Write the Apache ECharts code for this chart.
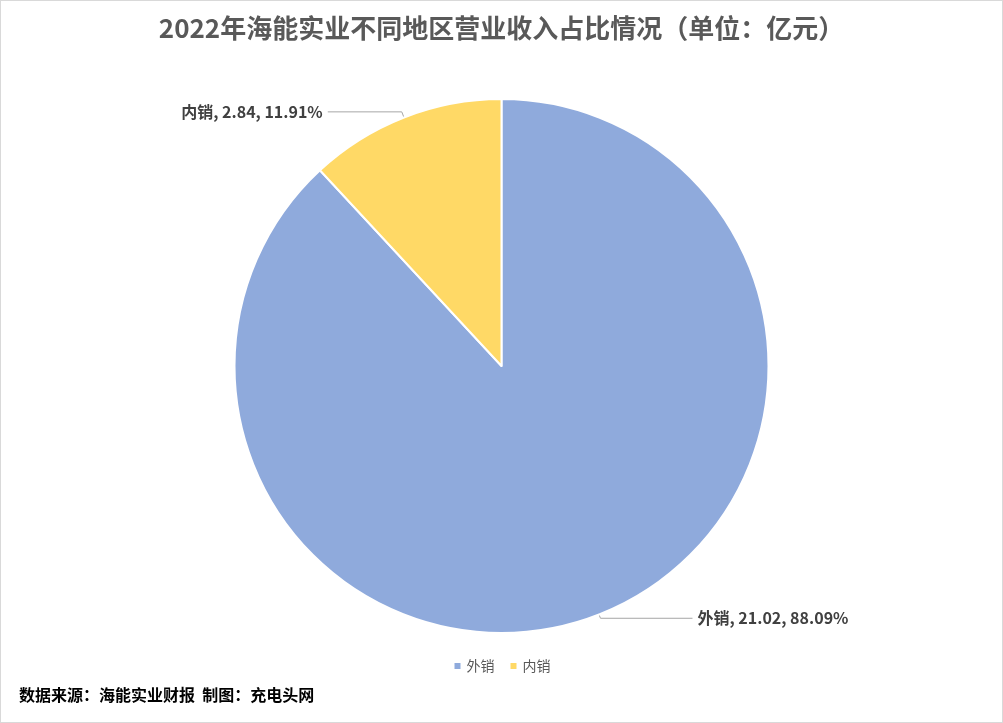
<!DOCTYPE html>
<html>
<head>
<meta charset="utf-8">
<script src="https://cdn.jsdelivr.net/npm/echarts@6/dist/echarts.min.js"></script>
<style>
  html, body { margin: 0; padding: 0; background: #fff; }
  #main { width: 1001px; height: 721px; border: 1px solid #d9d9d9; }
</style>
</head>
<body>
<div id="main"></div>
<script>
var categories = ['外销', '内销'];
var values = [21.02, 2.84];
var percents = ['88.09%', '11.91%'];
var colors = ['#8FAADC', '#FFD966'];

var chartDom = document.getElementById('main');
var myChart = echarts.init(chartDom);
var option;

var font = '"Noto Sans CJK SC", "Noto Sans", sans-serif';

// leader line lengths per slice (radial, horizontal)
var lines = [[4, 92], [6, 74]];

option = {
  animation: false,
  title: {
    text: '2022年海能实业不同地区营业收入占比情况（单位：亿元）',
    left: 'center',
    top: 9,
    textStyle: { fontFamily: font, fontSize: 26, fontWeight: 'bold', color: '#595959' }
  },
  legend: {
    bottom: 44,
    left: 'center',
    itemWidth: 8,
    itemHeight: 8,
    itemGap: 14,
    icon: 'rect',
    textStyle: { fontFamily: font, fontSize: 14, color: '#595959' },
    data: categories
  },
  graphic: [{
    type: 'text',
    left: 18,
    top: 686,
    style: { text: '数据来源：海能实业财报  制图：充电头网', fontFamily: font, fontSize: 16, fontWeight: 'bold', fill: '#000' }
  }],
  series: [
    {
      type: 'pie',
      center: ['50%', 365],
      radius: 267,
      startAngle: 90,
      clockwise: true,
      itemStyle: { borderColor: '#fff', borderWidth: 2 },
      label: {
        show: true,
        position: 'outside',
        fontFamily: font,
        fontSize: 16,
        fontWeight: 'bold',
        color: '#404040',
        formatter: function (p) {
          return p.name + ', ' + p.value.toFixed(2) + ', ' + percents[p.dataIndex];
        }
      },
      labelLine: { lineStyle: { color: '#a6a6a6', width: 1 } },
      data: categories.map(function (c, i) {
        return {
          name: c,
          value: values[i],
          itemStyle: { color: colors[i] },
          labelLine: { length: lines[i][0], length2: lines[i][1] }
        };
      })
    }
  ]
};

option && myChart.setOption(option);
</script>
</body>
</html>
